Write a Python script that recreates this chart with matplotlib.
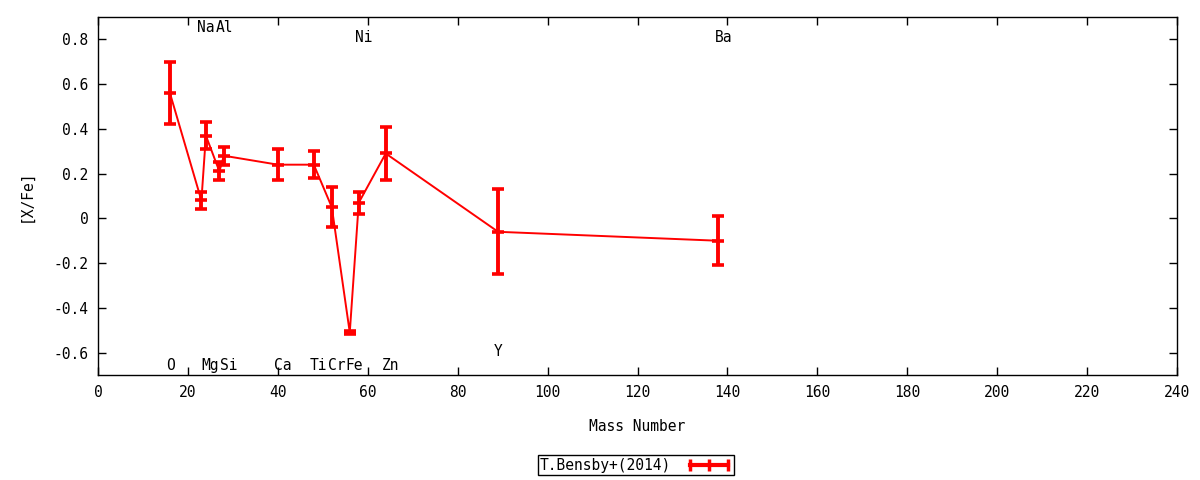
import numpy as np
import matplotlib
matplotlib.use('Agg')
import matplotlib.pyplot as plt
from matplotlib.lines import Line2D

plt.rcParams['font.family'] = ['DejaVu Sans Mono']

# abundance pattern
elements = ['O', 'Na', 'Mg', 'Al', 'Si', 'Ca', 'Ti', 'Cr', 'Fe', 'Ni', 'Zn', 'Y', 'Ba']
mass = [16, 23, 24, 27, 28, 40, 48, 52, 56, 58, 64, 89, 138]
xfe = [0.56, 0.08, 0.37, 0.21, 0.28, 0.24, 0.24, 0.05, -0.51, 0.07, 0.29, -0.06, -0.10]
err = [0.14, 0.04, 0.06, 0.04, 0.04, 0.07, 0.06, 0.09, 0.005, 0.05, 0.12, 0.19, 0.11]
label_y = [-0.656, 0.854, -0.656, 0.854, -0.656, -0.656, -0.656, -0.656, -0.656, 0.81, -0.656, -0.593, 0.81]

fig = plt.figure(figsize=(12, 4.8), dpi=100)
ax = fig.add_axes([98/1200, 1 - 375/480, (1177-98)/1200, (375-17)/480])

ax.plot(mass, xfe, color='red', lw=1.4, zorder=2)
ax.errorbar(mass, xfe, yerr=err, fmt='none', ecolor='red', elinewidth=2.8,
            capsize=4.3, capthick=2.6, zorder=3)
ax.plot(mass, xfe, ls='none', marker='_', ms=8.6, mew=2.6, color='red', zorder=3)

for el, m, ly in zip(elements, mass, label_y):
    ax.text(m - 0.9, ly, el, ha='left', va='center', fontsize=10.5)

ax.set_xlim(0, 240)
ax.set_ylim(-0.7, 0.9)
ax.set_xticks(np.arange(0, 241, 20))
ax.set_yticks(np.arange(-0.6, 0.81, 0.2))
ax.set_yticklabels(['-0.6', '-0.4', '-0.2', '0', '0.2', '0.4', '0.6', '0.8'])
ax.tick_params(direction='in', top=True, right=True, length=6, width=1, labelsize=10.5, pad=7)
for s in ax.spines.values():
    s.set_linewidth(1.0)

ax.set_xlabel('Mass Number', fontsize=10.5, labelpad=14)
ax.set_ylabel('[X/Fe]', fontsize=10.5, labelpad=14)

h = Line2D([], [], color='red', lw=3, marker='|', ms=9, mew=2.5)
leg = fig.legend([h], ['T.Bensby+(2014)'], loc='center', bbox_to_anchor=(0.53, 0.031),
                 markerfirst=False, numpoints=3, handlelength=3.2, fontsize=10.5,
                 fancybox=False, framealpha=1, edgecolor='black', borderpad=0.15,
                 handletextpad=1.0, borderaxespad=0)
leg.get_frame().set_linewidth(1.0)

fig.savefig('out.png', dpi=100)
